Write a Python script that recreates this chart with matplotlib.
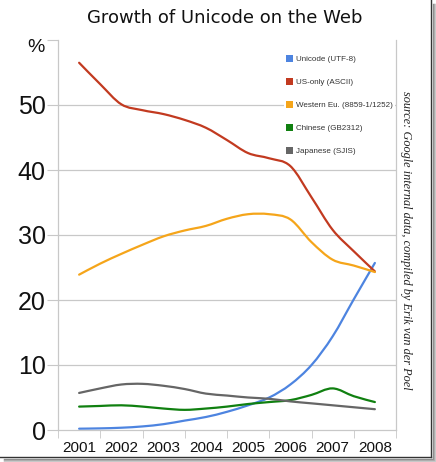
import matplotlib
matplotlib.use("Agg")
import numpy as np
import matplotlib.pyplot as plt
from matplotlib.patches import Patch, PathPatch
from matplotlib.path import Path
from matplotlib.lines import Line2D

# ---- data (half-year steps) ----
years = [2001.0, 2001.5, 2002.0, 2002.5, 2003.0, 2003.5, 2004.0, 2004.5,
         2005.0, 2005.5, 2006.0, 2006.5, 2007.0, 2007.5, 2008.0]
unicode_utf8 = [0.2, 0.25, 0.35, 0.55, 0.9, 1.45, 2.0, 2.8, 3.8, 5.0, 7.0, 10.0, 14.4, 20.1, 25.7]
us_ascii = [56.5, 53.2, 50.1, 49.2, 48.6, 47.7, 46.5, 44.6, 42.6, 41.8, 40.6, 35.8, 30.8, 27.5, 24.4]
western_eu = [23.9, 25.6, 27.1, 28.5, 29.8, 30.7, 31.4, 32.5, 33.2, 33.2, 32.4, 28.9, 26.2, 25.3, 24.3]
chinese = [3.6, 3.7, 3.8, 3.6, 3.3, 3.1, 3.3, 3.6, 4.0, 4.3, 4.6, 5.4, 6.4, 5.2, 4.3]
japanese = [5.7, 6.4, 7.0, 7.1, 6.8, 6.3, 5.6, 5.3, 5.0, 4.8, 4.4, 4.1, 3.8, 3.5, 3.2]

year_labels = ["2001", "2002", "2003", "2004", "2005", "2006", "2007", "2008"]
y_ticks = [0, 10, 20, 30, 40, 50, 60]
y_labels = ["0", "10", "20", "30", "40", "50", ""]

series_names = ["Unicode (UTF-8)", "US-only (ASCII)", "Western Eu. (8859-1/1252)",
                "Chinese (GB2312)", "Japanese (SJIS)"]
colors = ["#4d84e0", "#c23a20", "#f5a51a", "#108010", "#666666"]

W, H = 436, 462
fig = plt.figure(figsize=(W / 100, H / 100), dpi=100)
fig.patch.set_facecolor("white")

def fx(x):
    return x / W

def fy(y):
    return 1 - y / H

ax = fig.add_axes([fx(58), fy(430), fx(396) - fx(58), fy(40) - fy(430)])


def smooth_path(xs, ys):
    """Catmull-Rom curve through the data points, as cubic Bezier segments."""
    p = np.column_stack([xs, ys]).astype(float)
    n = len(p)
    verts = [p[0]]
    codes = [Path.MOVETO]
    for i in range(n - 1):
        p0 = p[i - 1] if i > 0 else p[i]
        p1 = p[i]
        p2 = p[i + 1]
        p3 = p[i + 2] if i + 2 < n else p[i + 1]
        c1 = p1 + (p2 - p0) / 6.0
        c2 = p2 - (p3 - p1) / 6.0
        verts += [c1, c2, p2]
        codes += [Path.CURVE4] * 3
    return Path(verts, codes)


series = [unicode_utf8, us_ascii, western_eu, chinese, japanese]
for vals, c in zip(series, colors):
    ax.add_patch(PathPatch(smooth_path(years, vals), facecolor="none", edgecolor=c,
                           lw=1.6, capstyle="round", joinstyle="round", zorder=2))

ax.set_xlim(2000.5, 2008.5)
ax.set_ylim(0, 60)

grid_c = "#c8c8c8"
ax.set_yticks(y_ticks)
ax.set_yticklabels(y_labels, fontsize=18, family="Liberation Sans", color="#111111")
for yv in y_ticks[1:-1]:
    ax.axhline(yv, color=grid_c, lw=0.9, zorder=0)

yr_num = [int(s) for s in year_labels]
ax.set_xticks(yr_num)
ax.set_xticklabels(year_labels, fontsize=11, family="Liberation Sans", color="#111111")
ax.set_xticks([y - 0.5 for y in yr_num] + [yr_num[-1] + 0.5], minor=True)
ax.tick_params(axis="x", which="major", length=0, pad=8)
ax.tick_params(axis="x", which="minor", length=6, color=grid_c, direction="out")
ax.tick_params(axis="y", length=8, color=grid_c, direction="out", pad=1)

for s in ["left", "right", "bottom"]:
    ax.spines[s].set_color(grid_c)
    ax.spines[s].set_linewidth(0.9)
ax.spines["top"].set_visible(False)

# percent sign
fig.text(fx(36), fy(48), "%", fontsize=14, family="Liberation Sans",
         ha="center", va="center", color="#111111")

# title
fig.text(fx(225), fy(23), "Growth of Unicode on the Web", fontsize=13,
         family="DejaVu Sans", ha="center", va="baseline", color="#111111")

# legend
handles = [Patch(facecolor=c, edgecolor="none") for c in colors]
leg = ax.legend(handles, series_names, loc="upper left",
                bbox_to_anchor=(fx(284), fy(53)), bbox_transform=fig.transFigure,
                frameon=True, facecolor="white", edgecolor="none",
                framealpha=1, handlelength=0.95, handleheight=0.95,
                handletextpad=0.35, labelspacing=1.85, borderpad=0.2,
                borderaxespad=0, prop={"family": "Liberation Sans", "size": 5.8})
for t in leg.get_texts():
    t.set_color("#333333")

# source note
fig.text(fx(406), fy(240), "source: Google internal data, compiled by Erik van der Poel",
         rotation=270, fontsize=8.8, family="Liberation Serif", style="italic",
         ha="center", va="center", color="#222222")

# image frame with shadow
fig.add_artist(Line2D([fx(431), fx(431)], [fy(0), fy(457)], transform=fig.transFigure,
                      color="#333333", lw=1.0))
fig.add_artist(Line2D([fx(0), fx(431)], [fy(457), fy(457)], transform=fig.transFigure,
                      color="#333333", lw=1.0))
for i, g in enumerate(["#8a8a8a", "#a8a8a8", "#c4c4c4", "#dddddd"]):
    off = 1.5 + i
    fig.add_artist(Line2D([fx(431 + off), fx(431 + off)], [fy(4), fy(457 + off)],
                          transform=fig.transFigure, color=g, lw=1.0))
    fig.add_artist(Line2D([fx(4), fx(431 + off)], [fy(457 + off), fy(457 + off)],
                          transform=fig.transFigure, color=g, lw=1.0))

fig.savefig("out.png", dpi=100, facecolor="white")
